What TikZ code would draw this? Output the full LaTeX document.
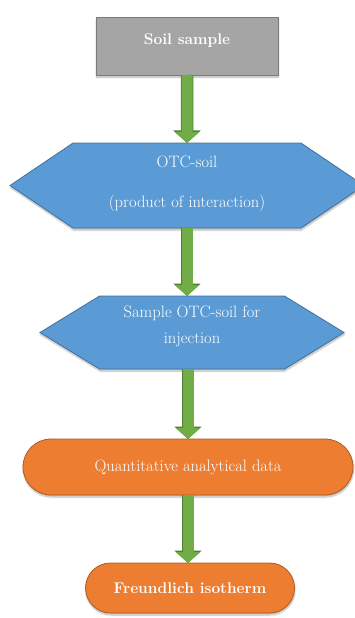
\documentclass[tikz,border=0pt]{standalone}
\usepackage{tikz}
\usetikzlibrary{arrows.meta,positioning,shapes.symbols,shapes.misc,shadows.blur}

\definecolor{soilgray}{HTML}{A5A5A5}
\definecolor{soilgrayedge}{HTML}{7B7B7B}
\definecolor{stageblue}{HTML}{5B9BD5}
\definecolor{stageblueedge}{HTML}{41719C}
\definecolor{resultorange}{HTML}{ED7D31}
\definecolor{resultorangeedge}{HTML}{AE5A21}
\definecolor{flowgreen}{HTML}{70AD47}
\definecolor{flowgreenedge}{HTML}{507E32}

% two lines of text, first baseline raised by #1, lines #2 apart
\newcommand{\stagetext}[4]{\raisebox{#1}[0pt][0pt]{\begin{tabular}[t]{@{}c@{}}#3\\[#2]#4\end{tabular}}}

\begin{document}
\begin{tikzpicture}[
  node distance=68pt,
  box/.style={draw,line width=0.8pt,text=white,align=center,inner sep=0pt,outer sep=0pt,
    font=\fontsize{16.5}{19}\selectfont,
    blur shadow={shadow xshift=0.5pt,shadow yshift=-2pt,shadow blur steps=6,shadow opacity=30}},
  start/.style={box,rectangle,fill=soilgray,draw=soilgrayedge,font=\fontsize{15.5}{19}\selectfont\bfseries},
  stage/.style={box,signal,signal to=west and east,fill=stageblue,draw=stageblueedge},
  result/.style={box,rounded rectangle,fill=resultorange,draw=resultorangeedge},
  flow/.style={line width=11pt,draw=flowgreen,-{Triangle[length=11pt,width=24pt]},
    preaction={draw=flowgreenedge,line width=12.5pt,-{Triangle[length=12.5pt,width=26.5pt]}}}
]
\useasboundingbox (0,0) rectangle (355pt,-618pt);
\clip (0,0) rectangle (355pt,-618pt);
% boxes of the procedure, top to bottom
\node[start,minimum width=182pt,minimum height=58pt,text depth=14pt] (soil) at (187pt,-46pt) {Soil sample};
\node[stage,below=of soil,minimum width=354pt,minimum height=85pt,signal pointer angle=68] (otc)
  {\stagetext{18pt}{21pt}{OTC-soil}{(product of interaction)}};
\node[stage,below=of otc,xshift=5pt,minimum width=304pt,minimum height=73pt,signal pointer angle=63] (inj)
  {\stagetext{15.5pt}{7pt}{Sample OTC-soil for}{injection}};
\node[result,below=70pt of inj,xshift=-4pt,minimum width=330pt,minimum height=56pt] (quant) {Quantitative analytical data};
\node[result,below=of quant,xshift=2pt,minimum width=209pt,minimum height=50pt,font=\fontsize{15.5}{19}\selectfont\bfseries] (freund)
  {Freundlich isotherm};
% green block arrows
\draw[flow] (soil) -- (otc);
\draw[flow] (otc.south) -- (otc.south |- inj.north);
\draw[flow] (quant.north |- inj.south) -- (quant.north);
\draw[flow] (quant.south) -- (quant.south |- freund.north);
\end{tikzpicture}
\end{document}
